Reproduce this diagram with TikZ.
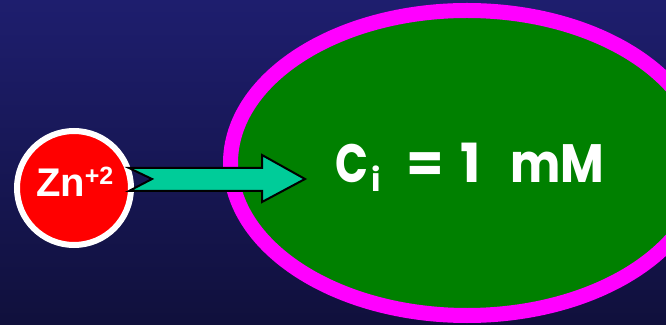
\documentclass[tikz,border=0pt]{standalone}
\usepackage{fontspec}
\setmainfont{Liberation Sans}
\newfontfamily\roundfont{Poppins}
\usetikzlibrary{shapes.geometric}
\definecolor{bgtop}{RGB}{30,30,110}
\definecolor{bgbot}{RGB}{16,16,60}
\definecolor{cellgreen}{RGB}{0,128,0}
\definecolor{cellpink}{RGB}{255,0,255}
\definecolor{ionred}{RGB}{255,0,0}
\definecolor{arrowteal}{RGB}{0,204,153}
\tikzset{
  cellstyle/.style={ellipse, draw=cellpink, fill=cellgreen, line width=15pt, inner sep=0pt, minimum width=473pt, minimum height=305pt},
  ionstyle/.style={circle, draw=white, fill=ionred, line width=6pt, inner sep=0pt, minimum size=114pt},
  blockarrow/.style={draw=black, fill=arrowteal, line width=2pt, line join=miter},
  labelstyle/.style={text=white, inner sep=0pt, outer sep=0pt}
}
\begin{document}
\begin{tikzpicture}[x=1pt,y=1pt]
\useasboundingbox (0,0) rectangle (666,324);
\shade[top color=bgtop, bottom color=bgbot] (0,0) rectangle (666,324);
\clip (0,0) rectangle (666,324);
\node[cellstyle] (cell) at (467,161) {};
\node[ionstyle] (ion) at (74,136) {};
\node[labelstyle, anchor=base west] (znlabel) at (36,127)
  {\bfseries\fontsize{40}{40}\selectfont Zn\raisebox{12pt}{\fontsize{25}{25}\selectfont +2}};
\coordinate (tail) at (129,156);
\coordinate (tip) at (305,145);
\draw[blockarrow] (tail) -- (152,145) -- (129,133) -- (262,133) -- (262,122)
  -- (tip) -- (262,169) -- (262,156) -- cycle;
\node[labelstyle, anchor=base west] (ci) at (335,141)
  {\roundfont\bfseries\fontsize{54}{54}\selectfont
   \rlap{\scalebox{0.8}[1]{C}}\hspace{36pt}\rlap{\raisebox{-9pt}{\fontsize{32}{32}\selectfont i}}\hspace{35pt}\rlap{=}\hspace{55pt}\rlap{1}\hspace{49pt}\scalebox{0.88}[1]{mM}};
\end{tikzpicture}
\end{document}
